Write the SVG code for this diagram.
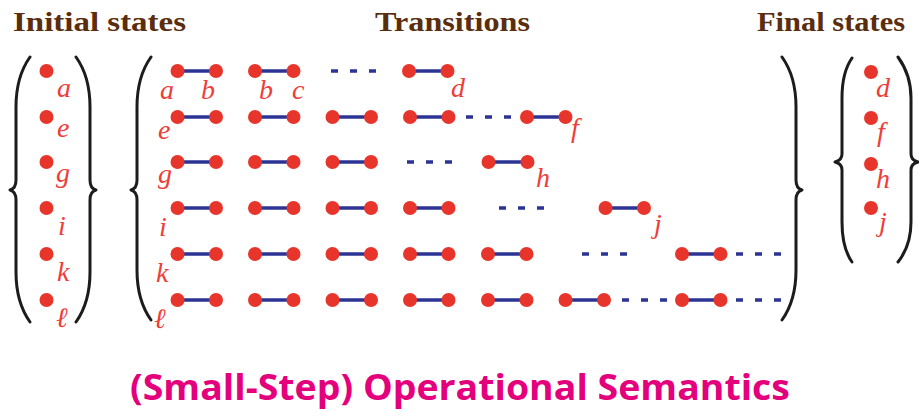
<svg xmlns="http://www.w3.org/2000/svg" width="919" height="416" viewBox="0 0 919 416">
<style>
.hd{font-family:"Liberation Serif","Times New Roman",serif;font-weight:bold;font-size:28px;fill:#5a2d0e}
.lb{font-family:"Liberation Serif","Times New Roman",serif;font-style:italic;font-size:28px;fill:#ef3d3a}
.dot{fill:#e8352b}
.br{fill:none;stroke:#1c1c1c;stroke-width:3;stroke-linecap:round;stroke-linejoin:round}
.edge{stroke:#2b3494;stroke-width:3.6}
.dash{stroke:#2b3494;stroke-width:3.6;stroke-dasharray:7 12}
.title{font-family:"Open Sans","Noto Sans",sans-serif;font-weight:700;font-size:35px;fill:#e4007c}
</style>
<rect width="919" height="416" fill="#ffffff"/>
<g id="headers">
<text class="hd" x="13" y="31" textLength="173" lengthAdjust="spacingAndGlyphs">Initial states</text>
<text class="hd" x="375" y="31" textLength="155" lengthAdjust="spacingAndGlyphs">Transitions</text>
<text class="hd" x="757" y="31" textLength="148" lengthAdjust="spacingAndGlyphs">Final states</text>
</g>
<g id="braces">
<path class="br" d="M 30 57 C 20 71, 16 89, 16 107 L 16 180 C 16 186, 14 189, 10 190 C 14 191, 16 194, 16 200 L 16 272 C 16 290, 20 308, 30 322"/>
<path class="br" d="M 76 57 C 86 71, 90 89, 90 107 L 90 180 C 90 186, 92 189, 96 190 C 92 191, 90 194, 90 200 L 90 272 C 90 290, 86 308, 76 322"/>
<path class="br" d="M 151 57 C 141 71, 137 89, 137 107 L 137 180 C 137 186, 135 189, 131 190 C 135 191, 137 194, 137 200 L 137 270 C 137 288, 141 306, 151 320"/>
<path class="br" d="M 782 57 C 792 71, 796 89, 796 107 L 796 180 C 796 186, 798 189, 802 190 C 798 191, 796 194, 796 200 L 796 270 C 796 288, 792 306, 782 320"/>
<path class="br" d="M 852 58 C 845 68, 842 82, 842 98 L 842 154 C 842 159, 839 161, 835 162 C 839 163, 842 165, 842 170 L 842 222 C 842 238, 845 252, 852 262"/>
<path class="br" d="M 898 57 C 906 68, 911 82, 911 98 L 911 154 C 911 159, 914 161, 918 162 C 914 163, 911 165, 911 170 L 911 222 C 911 238, 906 252, 898 262"/>
</g>
<g id="connectors">
<line class="edge" x1="177.5" y1="71" x2="216" y2="71"/>
<line class="edge" x1="255" y1="71" x2="293.5" y2="71"/>
<line class="dash" x1="331" y1="71" x2="377" y2="71"/>
<line class="edge" x1="409" y1="71" x2="447.5" y2="71"/>
<line class="edge" x1="177.5" y1="117" x2="216" y2="117"/>
<line class="edge" x1="255" y1="117" x2="293.5" y2="117"/>
<line class="edge" x1="332.5" y1="117" x2="371" y2="117"/>
<line class="edge" x1="410" y1="117" x2="448.5" y2="117"/>
<line class="dash" x1="466" y1="117" x2="512" y2="117"/>
<line class="edge" x1="527" y1="117" x2="565.5" y2="117"/>
<line class="edge" x1="177.5" y1="162" x2="216" y2="162"/>
<line class="edge" x1="255" y1="162" x2="293.5" y2="162"/>
<line class="edge" x1="332.5" y1="162" x2="371" y2="162"/>
<line class="dash" x1="407" y1="162" x2="453" y2="162"/>
<line class="edge" x1="488.5" y1="162" x2="527.5" y2="162"/>
<line class="edge" x1="177.5" y1="208" x2="216" y2="208"/>
<line class="edge" x1="255" y1="208" x2="293.5" y2="208"/>
<line class="edge" x1="332.5" y1="208" x2="371" y2="208"/>
<line class="edge" x1="410" y1="208" x2="448.5" y2="208"/>
<line class="dash" x1="499" y1="208" x2="545" y2="208"/>
<line class="edge" x1="605.5" y1="208" x2="644" y2="208"/>
<line class="edge" x1="177.5" y1="254" x2="216" y2="254"/>
<line class="edge" x1="255" y1="254" x2="293.5" y2="254"/>
<line class="edge" x1="332.5" y1="254" x2="371" y2="254"/>
<line class="edge" x1="410" y1="254" x2="448.5" y2="254"/>
<line class="edge" x1="488" y1="254" x2="526.5" y2="254"/>
<line class="dash" x1="582" y1="254" x2="628" y2="254"/>
<line class="edge" x1="682" y1="254" x2="720.5" y2="254"/>
<line class="dash" x1="736" y1="254" x2="782" y2="254"/>
<line class="edge" x1="177.5" y1="300" x2="216" y2="300"/>
<line class="edge" x1="255" y1="300" x2="293.5" y2="300"/>
<line class="edge" x1="332.5" y1="300" x2="371" y2="300"/>
<line class="edge" x1="410" y1="300" x2="448.5" y2="300"/>
<line class="edge" x1="488" y1="300" x2="526.5" y2="300"/>
<line class="edge" x1="565.5" y1="300" x2="604" y2="300"/>
<line class="dash" x1="622" y1="300" x2="668" y2="300"/>
<line class="edge" x1="682" y1="300" x2="720.5" y2="300"/>
<line class="dash" x1="736" y1="300" x2="782" y2="300"/>
</g>
<g id="initial-states">
<g id="init-a"><circle class="dot" cx="46.5" cy="71" r="7"/><text class="lb" x="57" y="97">a</text></g>
<g id="init-e"><circle class="dot" cx="46.5" cy="117" r="7"/><text class="lb" x="57" y="137">e</text></g>
<g id="init-g"><circle class="dot" cx="46.5" cy="162" r="7"/><text class="lb" x="56" y="182">g</text></g>
<g id="init-i"><circle class="dot" cx="46.5" cy="208" r="7"/><text class="lb" x="58" y="235">i</text></g>
<g id="init-k"><circle class="dot" cx="46.5" cy="254" r="7"/><text class="lb" x="57" y="281">k</text></g>
<g id="init-l"><circle class="dot" cx="46.5" cy="300" r="7"/><text class="lb" x="56" y="327">ℓ</text></g>
</g>
<g id="transitions">
<g id="row-a">
<circle class="dot" cx="177.5" cy="71" r="7"/><circle class="dot" cx="216" cy="71" r="7"/>
<circle class="dot" cx="255" cy="71" r="7"/><circle class="dot" cx="293.5" cy="71" r="7"/>
<circle class="dot" cx="409" cy="71" r="7"/><circle class="dot" cx="447.5" cy="71" r="7"/>
<text class="lb" x="160" y="99">a</text><text class="lb" x="201" y="99">b</text>
<text class="lb" x="259" y="99">b</text><text class="lb" x="292" y="99">c</text>
<text class="lb" x="451" y="97">d</text>
</g>
<g id="row-e">
<circle class="dot" cx="177.5" cy="117" r="7"/><circle class="dot" cx="216" cy="117" r="7"/>
<circle class="dot" cx="255" cy="117" r="7"/><circle class="dot" cx="293.5" cy="117" r="7"/>
<circle class="dot" cx="332.5" cy="117" r="7"/><circle class="dot" cx="371" cy="117" r="7"/>
<circle class="dot" cx="410" cy="117" r="7"/><circle class="dot" cx="448.5" cy="117" r="7"/>
<circle class="dot" cx="527" cy="117" r="7"/><circle class="dot" cx="565.5" cy="117" r="7"/>
<text class="lb" x="158" y="139">e</text><text class="lb" x="571" y="137">f</text>
</g>
<g id="row-g">
<circle class="dot" cx="177.5" cy="162" r="7"/><circle class="dot" cx="216" cy="162" r="7"/>
<circle class="dot" cx="255" cy="162" r="7"/><circle class="dot" cx="293.5" cy="162" r="7"/>
<circle class="dot" cx="332.5" cy="162" r="7"/><circle class="dot" cx="371" cy="162" r="7"/>
<circle class="dot" cx="488.5" cy="162" r="7"/><circle class="dot" cx="527.5" cy="162" r="7"/>
<text class="lb" x="158" y="183">g</text><text class="lb" x="536" y="187">h</text>
</g>
<g id="row-i">
<circle class="dot" cx="177.5" cy="208" r="7"/><circle class="dot" cx="216" cy="208" r="7"/>
<circle class="dot" cx="255" cy="208" r="7"/><circle class="dot" cx="293.5" cy="208" r="7"/>
<circle class="dot" cx="332.5" cy="208" r="7"/><circle class="dot" cx="371" cy="208" r="7"/>
<circle class="dot" cx="410" cy="208" r="7"/><circle class="dot" cx="448.5" cy="208" r="7"/>
<circle class="dot" cx="605.5" cy="208" r="7"/><circle class="dot" cx="644" cy="208" r="7"/>
<text class="lb" x="159" y="236">i</text><text class="lb" x="654" y="233">j</text>
</g>
<g id="row-k">
<circle class="dot" cx="177.5" cy="254" r="7"/><circle class="dot" cx="216" cy="254" r="7"/>
<circle class="dot" cx="255" cy="254" r="7"/><circle class="dot" cx="293.5" cy="254" r="7"/>
<circle class="dot" cx="332.5" cy="254" r="7"/><circle class="dot" cx="371" cy="254" r="7"/>
<circle class="dot" cx="410" cy="254" r="7"/><circle class="dot" cx="448.5" cy="254" r="7"/>
<circle class="dot" cx="488" cy="254" r="7"/><circle class="dot" cx="526.5" cy="254" r="7"/>
<circle class="dot" cx="682" cy="254" r="7"/><circle class="dot" cx="720.5" cy="254" r="7"/>
<text class="lb" x="156" y="282">k</text>
</g>
<g id="row-l">
<circle class="dot" cx="177.5" cy="300" r="7"/><circle class="dot" cx="216" cy="300" r="7"/>
<circle class="dot" cx="255" cy="300" r="7"/><circle class="dot" cx="293.5" cy="300" r="7"/>
<circle class="dot" cx="332.5" cy="300" r="7"/><circle class="dot" cx="371" cy="300" r="7"/>
<circle class="dot" cx="410" cy="300" r="7"/><circle class="dot" cx="448.5" cy="300" r="7"/>
<circle class="dot" cx="488" cy="300" r="7"/><circle class="dot" cx="526.5" cy="300" r="7"/>
<circle class="dot" cx="565.5" cy="300" r="7"/><circle class="dot" cx="604" cy="300" r="7"/>
<circle class="dot" cx="682" cy="300" r="7"/><circle class="dot" cx="720.5" cy="300" r="7"/>
<text class="lb" x="154" y="328">ℓ</text>
</g>
</g>
<g id="final-states">
<g id="final-d"><circle class="dot" cx="871" cy="72" r="7"/><text class="lb" x="876" y="97">d</text></g>
<g id="final-f"><circle class="dot" cx="871" cy="118" r="7"/><text class="lb" x="877" y="141">f</text></g>
<g id="final-h"><circle class="dot" cx="871" cy="164" r="7"/><text class="lb" x="876" y="188">h</text></g>
<g id="final-j"><circle class="dot" cx="871" cy="208" r="7"/><text class="lb" x="879" y="231">j</text></g>
</g>
<g id="title">
<text class="title" x="130" y="400" textLength="660" lengthAdjust="spacingAndGlyphs">(Small-Step) Operational Semantics</text>
</g>
</svg>
